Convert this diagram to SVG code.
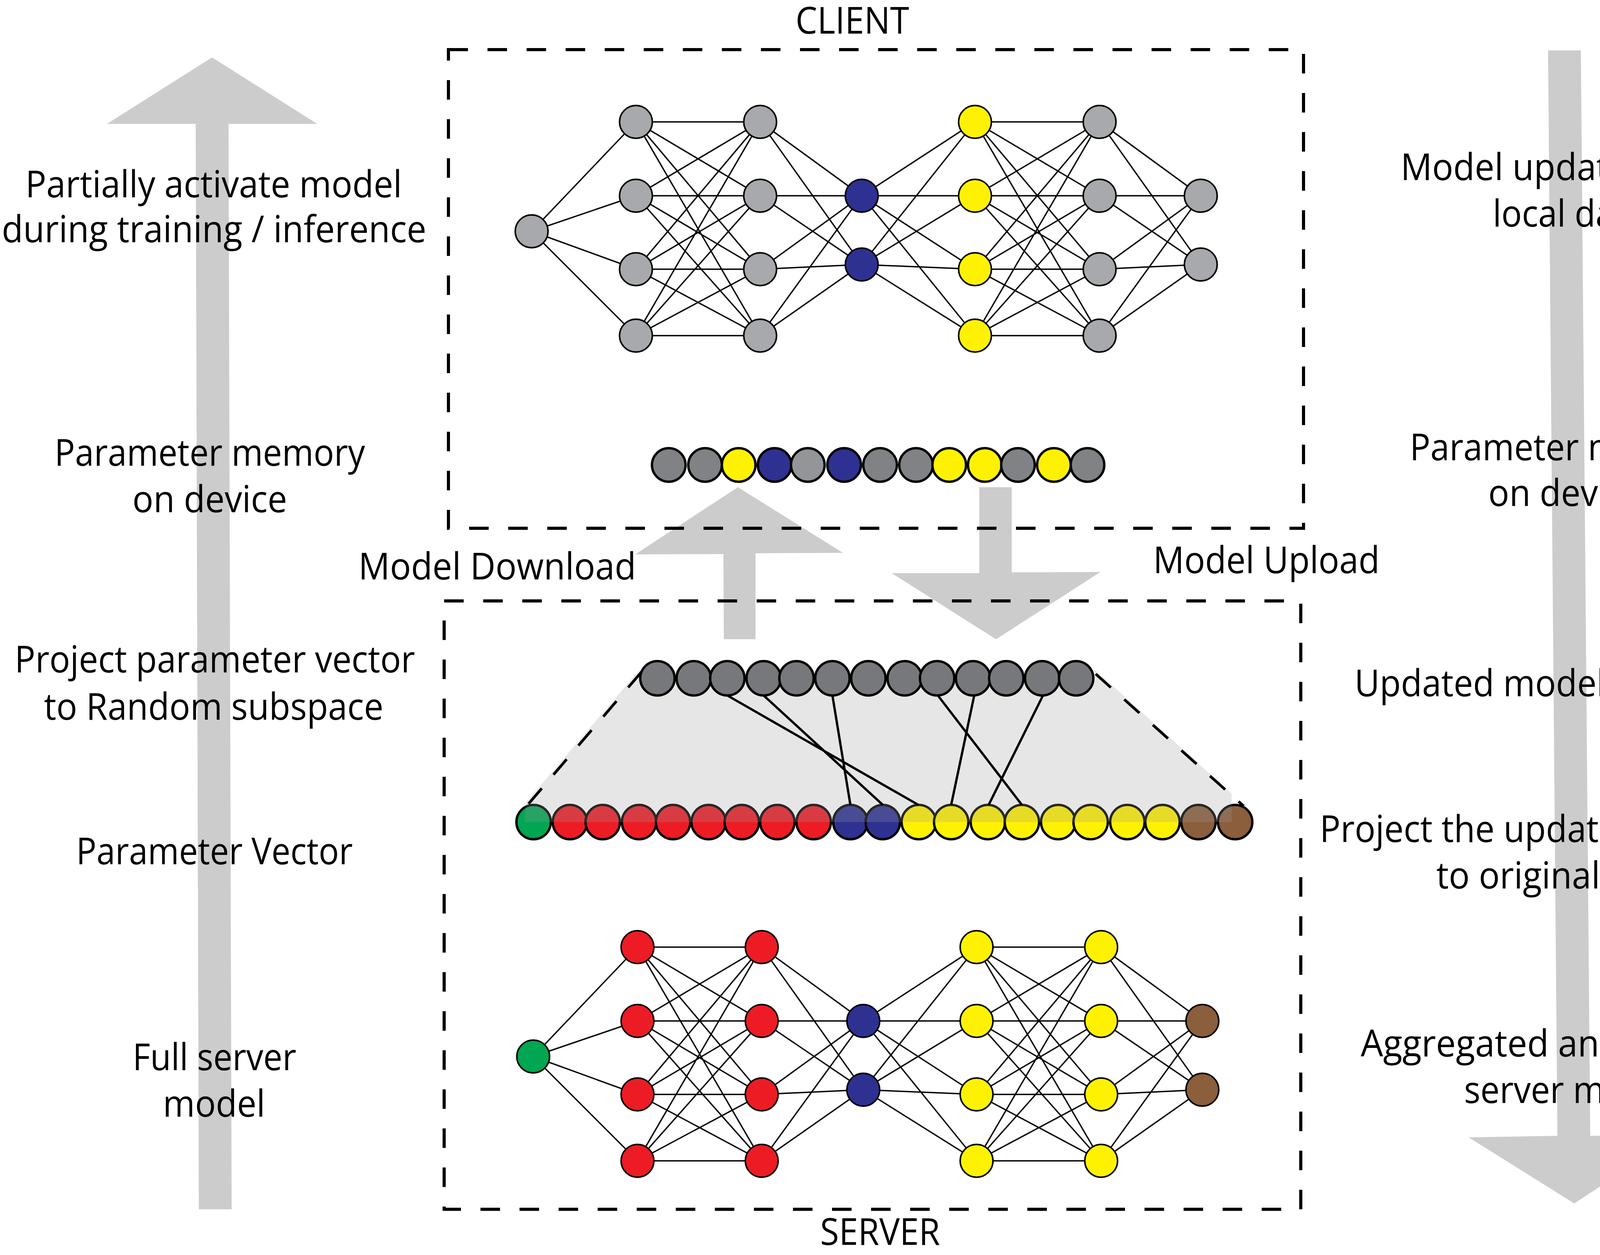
<svg xmlns="http://www.w3.org/2000/svg" xmlns:xlink="http://www.w3.org/1999/xlink" width="4660" height="3212" viewBox="0 0 4660 3212">
<style>
.lbl{font-family:"Open Sans","Noto Sans","DejaVu Sans",sans-serif;font-size:95px;fill:#000;text-anchor:middle}
.arrow{fill:#CCCCCC}
.box{fill:none;stroke:#000;stroke-width:8;stroke-dasharray:50 50}
.edge{fill:none;stroke:#000;stroke-width:7;stroke-dasharray:52 46}
.net{fill:none;stroke:#000;stroke-width:3.5}
.proj{fill:none;stroke:#000;stroke-width:6}
.n{stroke:#000;stroke-width:4}
.m{stroke:#000;stroke-width:6}
.g{fill:#A7A9AC}.b{fill:#2E3192}.y{fill:#FFF200}.r{fill:#ED1C24}.gr{fill:#00A651}.br{fill:#8B5E3C}.d{fill:#808285}.l{fill:#939598}.t{fill:#77787B}
</style>
<defs>
<path id="netlines" class="net" d="M1361 592L1628 312M1361 592L1628 501M1361 592L1628 689M1361 592L1628 859
M1628 312L1946 312M1628 312L1946 501M1628 312L1946 689M1628 312L1946 859
M1628 501L1946 312M1628 501L1946 501M1628 501L1946 689M1628 501L1946 859
M1628 689L1946 312M1628 689L1946 501M1628 689L1946 689M1628 689L1946 859
M1628 859L1946 312M1628 859L1946 501M1628 859L1946 689M1628 859L1946 859
M1946 312L2206 501M1946 312L2206 677M1946 501L2206 501M1946 501L2206 677M1946 689L2206 501M1946 689L2206 677M1946 859L2206 501M1946 859L2206 677
M2206 501L2496 312M2206 501L2496 501M2206 501L2496 689M2206 501L2496 859M2206 677L2496 312M2206 677L2496 501M2206 677L2496 689M2206 677L2496 859
M2496 312L2815 312M2496 312L2815 501M2496 312L2815 689M2496 312L2815 859
M2496 501L2815 312M2496 501L2815 501M2496 501L2815 689M2496 501L2815 859
M2496 689L2815 312M2496 689L2815 501M2496 689L2815 689M2496 689L2815 859
M2496 859L2815 312M2496 859L2815 501M2496 859L2815 689M2496 859L2815 859
M2815 312L3074 501M2815 312L3074 677M2815 501L3074 501M2815 501L3074 677M2815 689L3074 501M2815 689L3074 677M2815 859L3074 501M2815 859L3074 677"/>
</defs>

<!-- big side arrows -->
<g id="arrow-left">
<polygon class="arrow" points="543,147 812,317 585,317 593,3095 509,3095 501,317 274,317"/>
</g>
<g id="arrow-right">
<polygon class="arrow" points="3963,129 4047,129 4071,2907 4298,2905 4030,3080 3760,2911 3987,2907"/>
</g>
<g id="arrow-download">
<polygon class="arrow" points="1889,1247 2158,1415 1934,1416 1934,1636 1853,1636 1852,1418 1626,1419"/>
</g>
<g id="arrow-upload">
<polygon class="arrow" points="2507,1247 2590,1247 2590,1465 2817,1464 2550,1636 2283,1467 2507,1467"/>
</g>

<!-- boxes -->
<g id="client-box"><rect class="box" x="1148" y="127" width="2189" height="1225"/></g>
<g id="server-box"><rect class="box" x="1137" y="1538" width="2193" height="1557"/></g>

<!-- connectors -->
<g id="connectors">
<use xlink:href="#netlines"/>
<use xlink:href="#netlines" transform="translate(4,2112)"/>
</g>

<!-- client network nodes -->
<g id="client-network">
<circle class="n g" cx="1361" cy="592" r="42"/>
<circle class="n g" cx="1628" cy="312" r="42"/><circle class="n g" cx="1628" cy="501" r="42"/><circle class="n g" cx="1628" cy="689" r="42"/><circle class="n g" cx="1628" cy="859" r="42"/>
<circle class="n g" cx="1946" cy="312" r="42"/><circle class="n g" cx="1946" cy="501" r="42"/><circle class="n g" cx="1946" cy="689" r="42"/><circle class="n g" cx="1946" cy="859" r="42"/>
<circle class="n b" cx="2206" cy="501" r="42"/><circle class="n b" cx="2206" cy="677" r="42"/>
<circle class="n y" cx="2496" cy="312" r="42"/><circle class="n y" cx="2496" cy="501" r="42"/><circle class="n y" cx="2496" cy="689" r="42"/><circle class="n y" cx="2496" cy="859" r="42"/>
<circle class="n g" cx="2815" cy="312" r="42"/><circle class="n g" cx="2815" cy="501" r="42"/><circle class="n g" cx="2815" cy="689" r="42"/><circle class="n g" cx="2815" cy="859" r="42"/>
<circle class="n g" cx="3074" cy="501" r="42"/><circle class="n g" cx="3074" cy="677" r="42"/>
</g>

<!-- client parameter memory -->
<g id="client-memory">
<circle class="m d" cx="1712" cy="1190" r="43"/><circle class="m d" cx="1805" cy="1190" r="43"/><circle class="m y" cx="1891" cy="1190" r="43"/><circle class="m b" cx="1983" cy="1190" r="43"/><circle class="m l" cx="2068" cy="1190" r="43"/><circle class="m b" cx="2161" cy="1190" r="43"/><circle class="m d" cx="2253" cy="1190" r="43"/><circle class="m d" cx="2345" cy="1190" r="43"/><circle class="m y" cx="2430" cy="1190" r="43"/><circle class="m y" cx="2521" cy="1190" r="43"/><circle class="m d" cx="2606" cy="1190" r="43"/><circle class="m y" cx="2698" cy="1190" r="43"/><circle class="m d" cx="2784" cy="1190" r="43"/>
</g>

<!-- server parameter vector -->
<g id="parameter-vector">
<circle class="m gr" cx="1366" cy="2104" r="44"/><circle class="m r" cx="1459" cy="2104" r="44"/><circle class="m r" cx="1543" cy="2104" r="44"/><circle class="m r" cx="1636" cy="2104" r="44"/><circle class="m r" cx="1723" cy="2104" r="44"/><circle class="m r" cx="1814" cy="2104" r="44"/><circle class="m r" cx="1899" cy="2104" r="44"/><circle class="m r" cx="1990" cy="2104" r="44"/><circle class="m r" cx="2083" cy="2104" r="44"/><circle class="m b" cx="2177" cy="2104" r="44"/><circle class="m b" cx="2260" cy="2104" r="44"/><circle class="m y" cx="2352" cy="2104" r="44"/><circle class="m y" cx="2435" cy="2104" r="44"/><circle class="m y" cx="2529" cy="2104" r="44"/><circle class="m y" cx="2616" cy="2104" r="44"/><circle class="m y" cx="2709" cy="2104" r="44"/><circle class="m y" cx="2792" cy="2104" r="44"/><circle class="m y" cx="2886" cy="2104" r="44"/><circle class="m y" cx="2976" cy="2104" r="44"/><circle class="m br" cx="3068" cy="2104" r="44"/><circle class="m br" cx="3162" cy="2104" r="44"/>
</g>
<g id="projection-area">
<polygon points="1636,1716 2805,1716 3153,2031 3153,2104 1342,2104 1347,2053" fill="#9B9B9B" fill-opacity="0.25"/>
</g>
<g id="updated-parameter">
<circle class="m t" cx="1683" cy="1736" r="44"/><circle class="m t" cx="1776" cy="1736" r="44"/><circle class="m t" cx="1862" cy="1736" r="44"/><circle class="m t" cx="1955" cy="1736" r="44"/><circle class="m t" cx="2039" cy="1736" r="44"/><circle class="m t" cx="2131" cy="1736" r="44"/><circle class="m t" cx="2223" cy="1736" r="44"/><circle class="m t" cx="2316" cy="1736" r="44"/><circle class="m t" cx="2399" cy="1736" r="44"/><circle class="m t" cx="2491" cy="1736" r="44"/><circle class="m t" cx="2576" cy="1736" r="44"/><circle class="m t" cx="2668" cy="1736" r="44"/><circle class="m t" cx="2755" cy="1736" r="44"/>
</g>
<g id="projection-links">
<path class="proj" d="M1862 1780L2351 2060M1955 1780L2260 2060M2131 1780L2177 2060M2401 1780L2616 2060M2494 1780L2435 2060M2670 1780L2531 2060"/>
<path class="edge" d="M1642 1720L1337 2076M2805 1725L3184 2063"/>
</g>

<!-- server network nodes -->
<g id="server-network">
<circle class="n gr" cx="1365" cy="2704" r="42"/>
<circle class="n r" cx="1632" cy="2424" r="42"/><circle class="n r" cx="1632" cy="2613" r="42"/><circle class="n r" cx="1632" cy="2801" r="42"/><circle class="n r" cx="1632" cy="2971" r="42"/>
<circle class="n r" cx="1950" cy="2424" r="42"/><circle class="n r" cx="1950" cy="2613" r="42"/><circle class="n r" cx="1950" cy="2801" r="42"/><circle class="n r" cx="1950" cy="2971" r="42"/>
<circle class="n b" cx="2210" cy="2613" r="42"/><circle class="n b" cx="2210" cy="2789" r="42"/>
<circle class="n y" cx="2500" cy="2424" r="42"/><circle class="n y" cx="2500" cy="2613" r="42"/><circle class="n y" cx="2500" cy="2801" r="42"/><circle class="n y" cx="2500" cy="2971" r="42"/>
<circle class="n y" cx="2819" cy="2424" r="42"/><circle class="n y" cx="2819" cy="2613" r="42"/><circle class="n y" cx="2819" cy="2801" r="42"/><circle class="n y" cx="2819" cy="2971" r="42"/>
<circle class="n br" cx="3078" cy="2613" r="42"/><circle class="n br" cx="3078" cy="2789" r="42"/>
</g>

<!-- labels -->
<g id="labels">
<text class="lbl" x="2182" y="86" textLength="291" lengthAdjust="spacingAndGlyphs">CLIENT</text>
<text class="lbl" x="2253" y="3186" textLength="307" lengthAdjust="spacingAndGlyphs">SERVER</text>
<text class="lbl" x="1273" y="1483" textLength="711" lengthAdjust="spacingAndGlyphs">Model Download</text>
<text class="lbl" x="3242" y="1467" textLength="580" lengthAdjust="spacingAndGlyphs">Model Upload</text>

<text class="lbl" x="547" y="505" textLength="964" lengthAdjust="spacingAndGlyphs">Partially activate model</text>
<text class="lbl" x="548" y="620" textLength="1087" lengthAdjust="spacingAndGlyphs">during training / inference</text>
<text class="lbl" x="537" y="1192" textLength="795" lengthAdjust="spacingAndGlyphs">Parameter memory</text>
<text class="lbl" x="537" y="1311" textLength="396" lengthAdjust="spacingAndGlyphs">on device</text>
<text class="lbl" x="550" y="1721" textLength="1025" lengthAdjust="spacingAndGlyphs">Project parameter vector</text>
<text class="lbl" x="547" y="1842" textLength="869" lengthAdjust="spacingAndGlyphs">to Random subspace</text>
<text class="lbl" x="549" y="2212" textLength="708" lengthAdjust="spacingAndGlyphs">Parameter Vector</text>
<text class="lbl" x="549" y="2739" textLength="419" lengthAdjust="spacingAndGlyphs">Full server</text>
<text class="lbl" x="548" y="2858" textLength="262" lengthAdjust="spacingAndGlyphs">model</text>

<text class="lbl" x="4006" y="461" textLength="841" lengthAdjust="spacingAndGlyphs">Model updated with</text>
<text class="lbl" x="4017" y="580" textLength="391" lengthAdjust="spacingAndGlyphs">local data</text>
<text class="lbl" x="4009" y="1178" textLength="800" lengthAdjust="spacingAndGlyphs">Parameter memory</text>
<text class="lbl" x="4008" y="1295" textLength="396" lengthAdjust="spacingAndGlyphs">on device</text>
<text class="lbl" x="4019" y="1782" textLength="1103" lengthAdjust="spacingAndGlyphs">Updated model parameter</text>
<text class="lbl" x="4018" y="2155" textLength="1279" lengthAdjust="spacingAndGlyphs">Project the updated parameter</text>
<text class="lbl" x="4018" y="2274" textLength="682" lengthAdjust="spacingAndGlyphs">to original space</text>
<text class="lbl" x="4006" y="2704" textLength="1045" lengthAdjust="spacingAndGlyphs">Aggregated and updated</text>
<text class="lbl" x="4017" y="2823" textLength="538" lengthAdjust="spacingAndGlyphs">server model</text>
</g>
</svg>
